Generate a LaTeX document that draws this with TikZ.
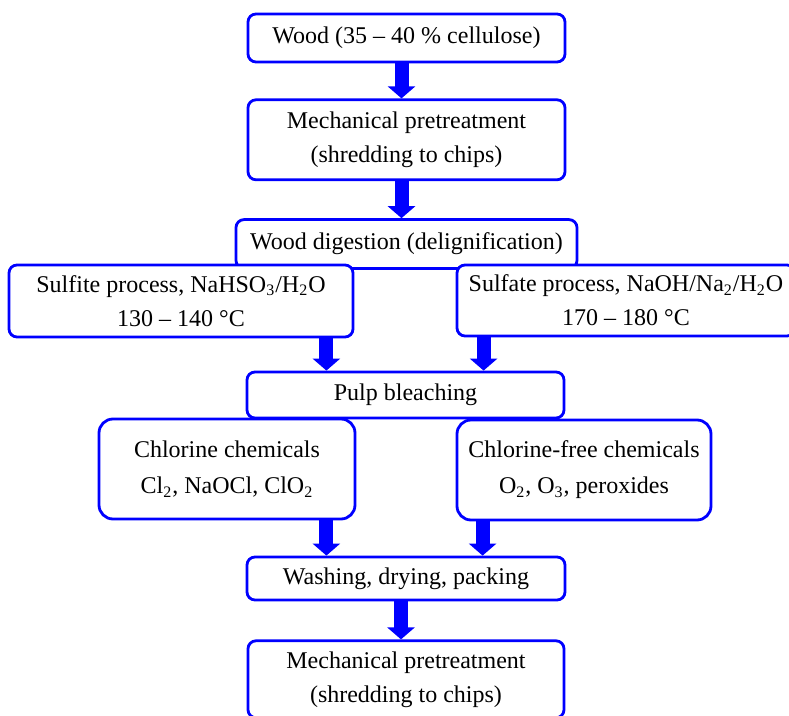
\documentclass[tikz,border=0pt]{standalone}
\usepackage{fontspec}
\setmainfont{Liberation Serif}
\usepackage{tikz}
\usetikzlibrary{positioning,arrows.meta}

\begin{document}
\begin{tikzpicture}[x=0.5pt,y=-0.5pt,
	stepbox/.style={draw=blue,line width=1.4pt,rounded corners=4pt,fill=white,
		inner sep=0pt,align=center,font=\fontsize{12}{17}\selectfont},
	flow/.style={blue,line width=7pt,-{Triangle[width=13.5pt,length=6pt]}}]
	\useasboundingbox (0,0) rectangle (789,716);
	\clip (0,0) rectangle (789,716);
	
	\node[stepbox,minimum width=158.5pt,minimum height=24pt](wood) at (406.5,38){Wood (35 -- 40 \% cellulose)};
	\node[stepbox,minimum width=158.5pt,minimum height=40pt,below = 17.5pt of wood](mech){Mechanical pretreatment\\(shredding to chips)};
	\node[stepbox,minimum width=170.5pt,minimum height=24.5pt,below = 18.5pt of mech](dig){Wood digestion (delignification)};
	\node[stepbox,minimum width=172pt,minimum height=36pt](sulfi) at (181,301){Sulfite process, NaHSO\textsubscript{3}/H\textsubscript{2}O\\130 -- 140 °C};
	\node[stepbox,minimum width=169pt,minimum height=35.5pt](sulfa) at (626,300.5){Sulfate process, NaOH/Na\textsubscript{2}/H\textsubscript{2}O\\170 -- 180 °C};
	\node[stepbox,minimum width=158.5pt,minimum height=23pt](bleach) at (405.5,395){Pulp bleaching};
	\node[stepbox,rounded corners=7pt,minimum width=128pt,minimum height=50pt](chlor) at (227,469){Chlorine chemicals\\[1pt]Cl\textsubscript{2}, NaOCl, ClO\textsubscript{2}};
	\node[stepbox,rounded corners=7pt,minimum width=127pt,minimum height=50pt](cfree) at (584,470){Chlorine-free chemicals\\[1pt]O\textsubscript{2}, O\textsubscript{3}, peroxides};
	\node[stepbox,minimum width=159pt,minimum height=21.5pt](wash) at (406,578.5){Washing, drying, packing};
	\node[stepbox,minimum width=158pt,minimum height=38.5pt,below = 19pt of wash](mech2){Mechanical pretreatment\\(shredding to chips)};
	
	\coordinate (s1) at ([xshift=-14pt]sulfi.south east);
	\coordinate (s2) at ([xshift=14pt]sulfa.south west);
	\coordinate (c1) at ([xshift=-15pt]chlor.south east);
	\coordinate (c2) at ([xshift=13.5pt]cfree.south west);
	
	\draw[flow] ([xshift=-2.5pt]wood.south) -- ([xshift=-2.5pt]mech.north);
	\draw[flow] ([xshift=-2.5pt]mech.north |- mech.south) -- ([xshift=-2.5pt]mech.north |- dig.north);
	\draw[flow] (s1) -- (s1 |- bleach.north);
	\draw[flow] (s2) -- (s2 |- bleach.north);
	\draw[flow] (c1) -- (c1 |- wash.north);
	\draw[flow] (c2) -- (c2 |- wash.north);
	\draw[flow] ([xshift=-2.5pt]wash.south) -- ([xshift=-2.5pt]wash.south |- mech2.north);
\end{tikzpicture}
\end{document}
